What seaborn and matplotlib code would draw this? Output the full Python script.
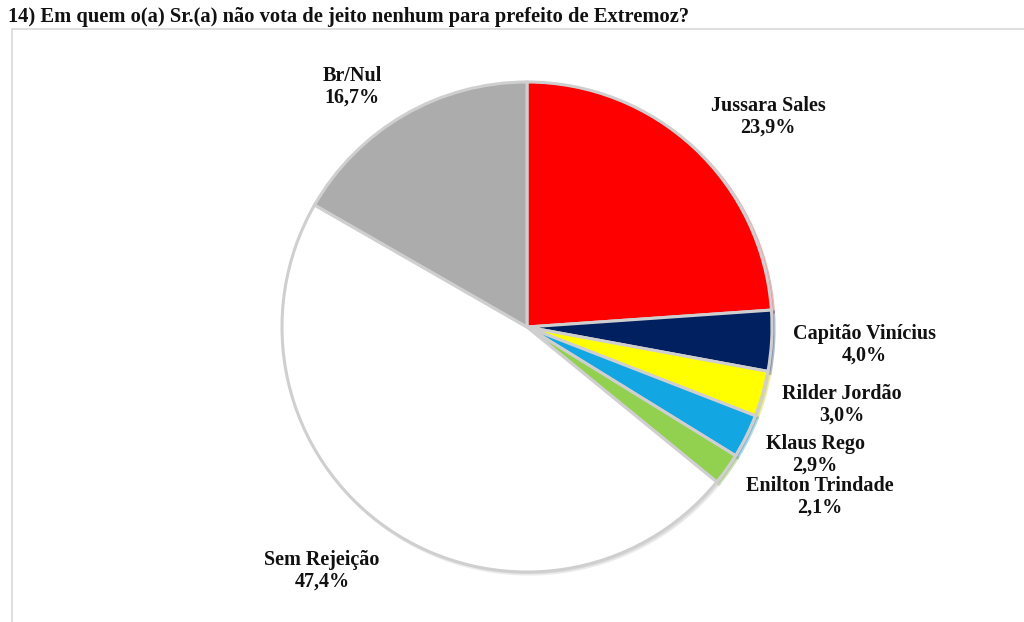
import matplotlib
matplotlib.use("Agg")
import matplotlib.pyplot as plt
import seaborn as sns
from matplotlib.lines import Line2D

sns.set_style("white")
plt.rcParams["font.family"] = ["Liberation Serif", "DejaVu Serif"]

title = "14) Em quem o(a) Sr.(a) não vota de jeito nenhum para prefeito de Extremoz?"

# data
categories = ["Jussara Sales", "Capitão Vinícius", "Rilder Jordão", "Klaus Rego",
              "Enilton Trindade", "Sem Rejeição", "Br/Nul"]
values = [23.9, 4.0, 3.0, 2.9, 2.1, 47.4, 16.7]
colors = ["#fe0000", "#002060", "#ffff00", "#12a6e2", "#92d050", "#ffffff", "#acacac"]

# label placement (in units of pie radius), layout only
label_pos = [(0.984, 0.857), (1.376, -0.073), (1.286, -0.318), (1.176, -0.522),
             (1.196, -0.694), (-0.837, -0.996), (-0.714, 0.980)]

W, H = 1024, 622
cx, cy, r = 527, 327, 245

fig = plt.figure(figsize=(W / 100, H / 100), dpi=100)
ax = fig.add_axes([0, 0, 1, 1])

wedges, _ = ax.pie(
    values,
    colors=colors,
    startangle=90,
    counterclock=False,
    radius=1,
    wedgeprops=dict(edgecolor="#cfcfcf", linewidth=2.2),
    shadow=dict(ox=0.006, oy=-0.006, shade=0.25, alpha=0.3),
    frame=True,
)
ax.set_xlim(-cx / r, (W - cx) / r)
ax.set_ylim((cy - H) / r, cy / r)
ax.set_aspect("auto")
ax.axis("off")

for name, val, (lx, ly) in zip(categories, values, label_pos):
    txt = "{}\n{}%".format(name, ("%.1f" % val).replace(".", ","))
    ax.text(lx, ly, txt, ha="center", va="center", fontsize=14.5, fontweight="bold",
            linespacing=1.12, color="#111111")

# frame lines of the chart area
fig.add_artist(Line2D([12 / W, 12 / W], [0, 1 - 29 / H], color="#d9d9d9", lw=1.2))
fig.add_artist(Line2D([12 / W, 1], [1 - 29 / H, 1 - 29 / H], color="#d9d9d9", lw=1.2))

fig.text(8 / W, 1 - 17 / H, title, ha="left", va="center", fontsize=14.8,
         fontweight="bold", color="#111111")

fig.savefig("out.png", dpi=100)
